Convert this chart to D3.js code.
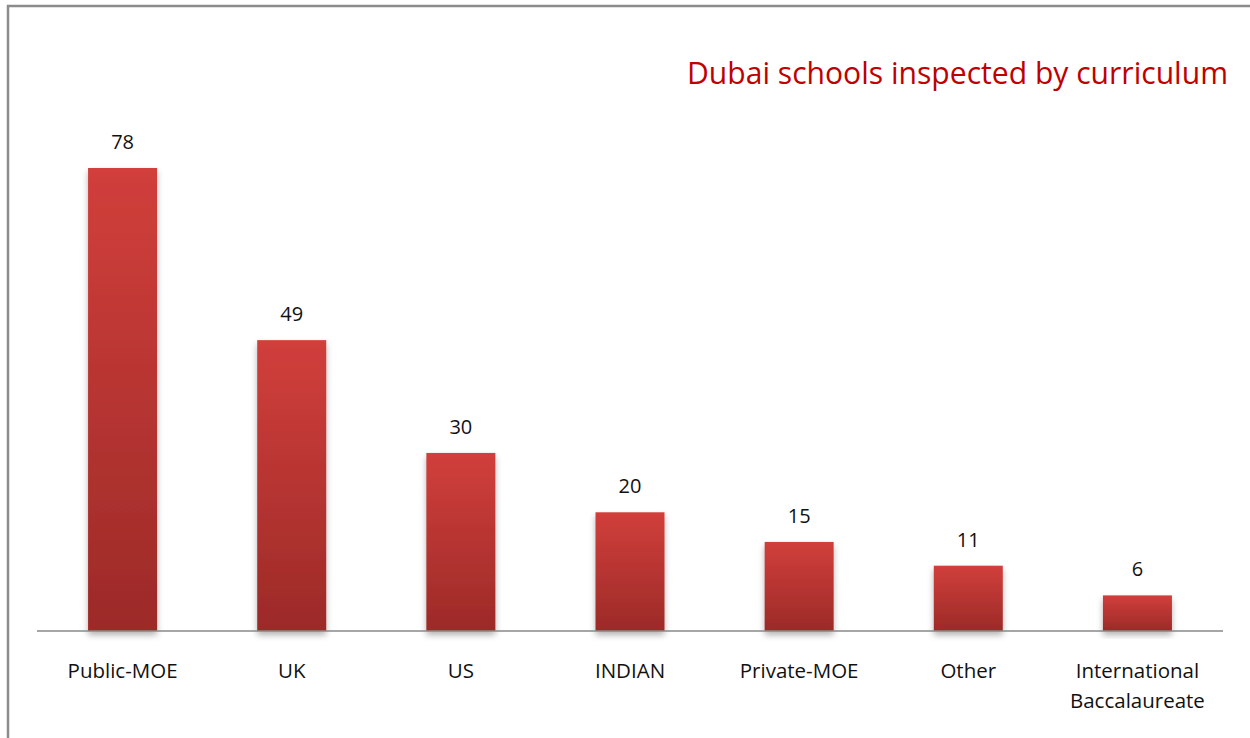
<!DOCTYPE html>
<html><head><meta charset="utf-8">
<script src="https://cdn.jsdelivr.net/npm/d3@7"></script>
<style>html,body{margin:0;padding:0;background:#fff;overflow:hidden}</style>
</head><body>
<svg id="chart" width="1250" height="738"></svg>
<script>
const categories = ["Public-MOE","UK","US","INDIAN","Private-MOE","Other","International Baccalaureate"];
const values = [78,49,30,20,15,11,6];
const title = "Dubai schools inspected by curriculum";

const svg = d3.select("#chart");
// frame
svg.append("rect").attr("x",8).attr("y",6).attr("width",1260).attr("height",760)
  .attr("fill","none").attr("stroke","#8c8c8c").attr("stroke-width",2.5);

const defs = svg.append("defs");
const g = defs.append("linearGradient").attr("id","barGrad").attr("x1",0).attr("y1",0).attr("x2",0).attr("y2",1);
g.append("stop").attr("offset","0%").attr("stop-color","#d13f3b");
g.append("stop").attr("offset","100%").attr("stop-color","#9c2a28");
const f = defs.append("filter").attr("id","shadow").attr("x","-20%").attr("y","-20%").attr("width","140%").attr("height","140%");
f.append("feDropShadow").attr("dx",0).attr("dy",4).attr("stdDeviation",3).attr("flood-color","#000").attr("flood-opacity",0.3);

const x = d3.scaleBand().domain(categories).range([38,1222]).paddingInner(0.592).paddingOuter(0.296);
const y = d3.scaleLinear().domain([0,90]).range([631,631-90*5.936]);

svg.append("g").selectAll("rect").data(values).join("rect")
  .attr("x",(d,i)=>x(categories[i]))
  .attr("y",d=>y(d))
  .attr("width",x.bandwidth())
  .attr("height",d=>y(0)-y(d))
  .attr("fill","url(#barGrad)")
  .attr("filter","url(#shadow)");

svg.append("line").attr("x1",37).attr("x2",1223).attr("y1",631).attr("y2",631)
  .attr("stroke","#888").attr("stroke-width",1.5);

svg.append("g").selectAll("text").data(values).join("text")
  .attr("x",(d,i)=>x(categories[i])+x.bandwidth()/2)
  .attr("y",d=>y(d)-19)
  .attr("text-anchor","middle")
  .attr("font-family","'Open Sans', 'Liberation Sans', sans-serif")
  .attr("font-size",20).attr("fill","#111")
  .text(d=>d);

const labs = svg.append("g").selectAll("text").data(categories).join("text")
  .attr("x",d=>x(d)+x.bandwidth()/2)
  .attr("y",678)
  .attr("text-anchor","middle")
  .attr("font-family","'Open Sans', 'Liberation Sans', sans-serif")
  .attr("font-size",20.5).attr("fill","#111");
labs.each(function(d){
  const words = d === "International Baccalaureate" ? ["International","Baccalaureate"] : [d];
  const t = d3.select(this);
  words.forEach((w,i)=>t.append("tspan").attr("x",x(d)+x.bandwidth()/2).attr("dy",i?30:0).text(w));
});

svg.append("text").attr("x",1228).attr("y",84).attr("text-anchor","end")
  .attr("font-family","'Open Sans', 'Noto Sans', sans-serif")
  .attr("font-size",31).attr("font-weight",500).attr("fill","#c00000")
  .attr("textLength",541).attr("lengthAdjust","spacingAndGlyphs")
  .text(title);
</script>
</body></html>
